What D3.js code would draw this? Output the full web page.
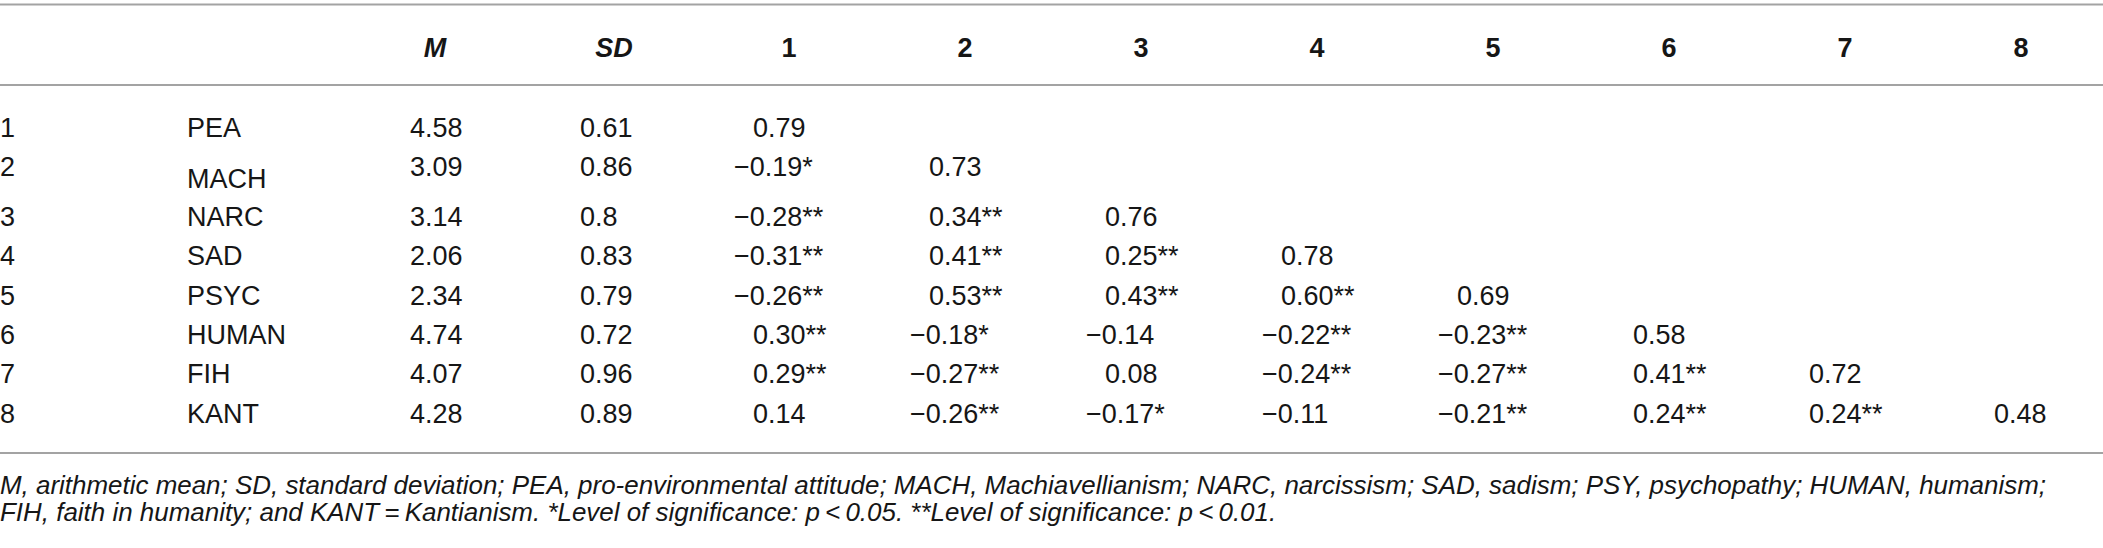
<!DOCTYPE html>
<html>
<head>
<meta charset="utf-8">
<script src="https://cdn.jsdelivr.net/npm/d3@7"></script>
<style>
  body { margin: 0; background: #fff; }
  svg text { font-family: "Liberation Sans", Arial, Helvetica, sans-serif; fill: #161616; }
</style>
</head>
<body>
<svg id="chart"></svg>
<script>
/* Data */
var varIds = ["1", "2", "3", "4", "5", "6", "7", "8"];
var varNames = ["PEA", "MACH", "NARC", "SAD", "PSYC", "HUMAN", "FIH", "KANT"];
var means = ["4.58", "3.09", "3.14", "2.06", "2.34", "4.74", "4.07", "4.28"];
var sds = ["0.61", "0.86", "0.8", "0.83", "0.79", "0.72", "0.96", "0.89"];

// lower triangle of the correlation matrix (diagonal included)
var corr = [
    [0.79],
    [-0.19, 0.73],
    [-0.28, 0.34, 0.76],
    [-0.31, 0.41, 0.25, 0.78],
    [-0.26, 0.53, 0.43, 0.60, 0.69],
    [0.30, -0.18, -0.14, -0.22, -0.23, 0.58],
    [0.29, -0.27, 0.08, -0.24, -0.27, 0.41, 0.72],
    [0.14, -0.26, -0.17, -0.11, -0.21, 0.24, 0.24, 0.48]
];
var sig = [
    [""],
    ["*", ""],
    ["**", "**", ""],
    ["**", "**", "**", ""],
    ["**", "**", "**", "**", ""],
    ["**", "*", "", "**", "**", ""],
    ["**", "**", "", "**", "**", "**", ""],
    ["", "**", "*", "", "**", "**", "**", ""]
];

var headers = ["M", "SD", "1", "2", "3", "4", "5", "6", "7", "8"];

var footLines = [
    "M, arithmetic mean; SD, standard deviation; PEA, pro-environmental attitude; MACH, Machiavellianism; NARC, narcissism; SAD, sadism; PSY, psychopathy; HUMAN, humanism;",
    "FIH, faith in humanity; and KANT\u2009=\u2009Kantianism. *Level of significance: p\u2009<\u20090.05. **Level of significance: p\u2009<\u20090.01."
];

/* Layout */
var options = {
    width: 2103,
    height: 548,
    fontSize: 27,
    footSize: 25,
    footWidth: 2046,
    lineColor: "#a3a3a3",
    rowStep: 39.4,
    firstRow: 137,
    // the MACH row is a bit taller than the others
    extraAfterRow2: 10
};

var svg = d3.select("#chart")
    .attr("width", options.width)
    .attr("height", options.height);

// column centres of the correlation block
var xCol = d3.scaleLinear().domain([1, 8]).range([789, 2021]);
// row baselines
var yRow = d3.scaleLinear().domain([1, 8])
    .range([options.firstRow, options.firstRow + 7 * options.rowStep]);
function rowY(i) {
    return yRow(i) + (i >= 3 ? options.extraAfterRow2 : 0);
}

var fmt = d3.format(".2f");
function corrText(v) {
    return fmt(v).replace("-", "\u2013");
}

// Rules
[4.5, 85, 453].forEach(function(y) {
    svg.append("line")
        .attr("x1", 0).attr("x2", options.width)
        .attr("y1", y).attr("y2", y)
        .style("stroke", options.lineColor)
        .style("stroke-width", 2);
});

// Header
var headX = [435, 614].concat(d3.range(1, 9).map(xCol));
svg.selectAll("text.head")
    .data(headers)
    .enter().append("text")
    .attr("class", "head")
    .attr("x", function(d, i) { return headX[i]; })
    .attr("y", 57)
    .attr("text-anchor", "middle")
    .style("font-size", options.fontSize + "px")
    .style("font-weight", "bold")
    .style("font-style", function(d, i) { return i < 2 ? "italic" : "normal"; })
    .text(function(d) { return d; });

// Row numbers and names
svg.selectAll("text.id")
    .data(varIds)
    .enter().append("text")
    .attr("class", "id")
    .attr("x", 0)
    .attr("y", function(d, i) { return rowY(i + 1); })
    .style("font-size", options.fontSize + "px")
    .text(function(d) { return d; });

svg.selectAll("text.name")
    .data(varNames)
    .enter().append("text")
    .attr("class", "name")
    .attr("x", 187)
    .attr("y", function(d, i) { return rowY(i + 1) + (i === 1 ? 12 : 0); })
    .style("font-size", options.fontSize + "px")
    .text(function(d) { return d; });

svg.selectAll("text.mean")
    .data(means)
    .enter().append("text")
    .attr("class", "mean")
    .attr("x", 410)
    .attr("y", function(d, i) { return rowY(i + 1); })
    .style("font-size", options.fontSize + "px")
    .text(function(d) { return d; });

svg.selectAll("text.sd")
    .data(sds)
    .enter().append("text")
    .attr("class", "sd")
    .attr("x", 580)
    .attr("y", function(d, i) { return rowY(i + 1); })
    .style("font-size", options.fontSize + "px")
    .text(function(d) { return d; });

// Correlations
var cells = [];
corr.forEach(function(row, r) {
    row.forEach(function(v, c) {
        cells.push({ row: r + 1, col: c + 1, value: v, stars: sig[r][c] });
    });
});

// width of the dash so negative numbers hang to the left
var probe = svg.append("text").style("font-size", options.fontSize + "px").text("\u2013");
var dashW = probe.node().getComputedTextLength();
probe.remove();

svg.selectAll("text.corr")
    .data(cells)
    .enter().append("text")
    .attr("class", "corr")
    .attr("x", function(d) {
        var x0 = d.col === 8 ? xCol(8) - 27 : xCol(d.col) - 36;
        return d.value < 0 ? x0 - dashW - 4 : x0;
    })
    .attr("y", function(d) { return rowY(d.row); })
    .style("font-size", options.fontSize + "px")
    .text(function(d) { return corrText(d.value) + d.stars; });

// Footnote: squeeze slightly so the first line ends where the reference does
var foot = svg.selectAll("text.foot")
    .data(footLines)
    .enter().append("text")
    .attr("class", "foot")
    .attr("x", 0)
    .attr("y", function(d, i) { return 494 + i * 27; })
    .style("font-style", "italic")
    .style("font-size", options.footSize + "px")
    .text(function(d) { return d; });

var natural = foot.nodes().map(function(n) { return n.getComputedTextLength(); });
var squeeze = options.footWidth / natural[0];
foot.attr("lengthAdjust", "spacingAndGlyphs")
    .attr("textLength", function(d, i) { return natural[i] * squeeze; });
</script>
</body>
</html>
